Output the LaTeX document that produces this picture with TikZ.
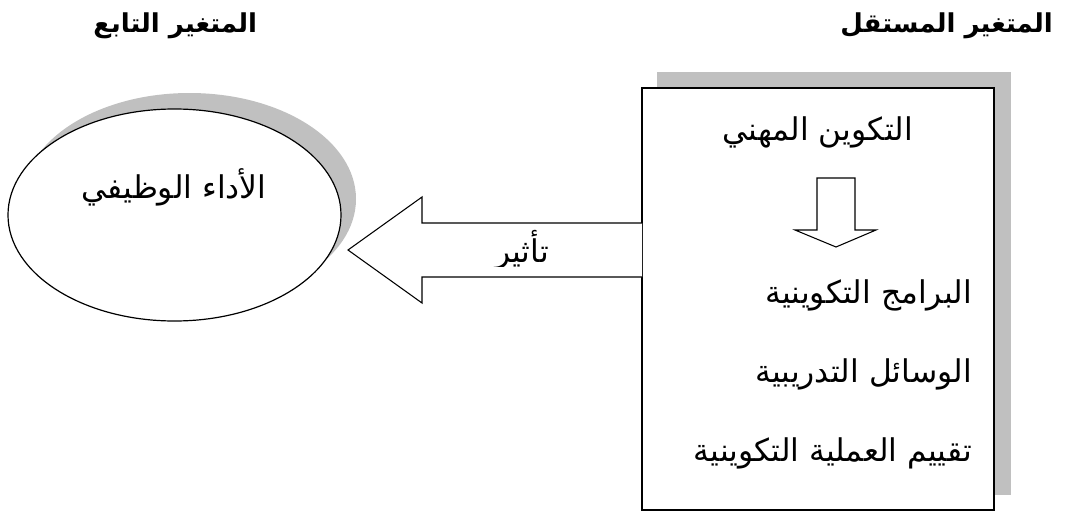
\documentclass[tikz,border=0pt]{standalone}
\usepackage{fontspec}
\usepackage{tikz}
\usetikzlibrary{positioning}
\usetikzlibrary{shapes.geometric}
\TeXXeTstate=1
\newfontfamily\arabicfont[Script=Arabic]{DejaVu Sans}
\definecolor{shadowgray}{RGB}{192,192,192}
\tikzset{ar/.style={font=\arabicfont\fontsize{23.5}{26}\selectfont, inner sep=0pt}}
\tikzset{arhead/.style={font=\arabicfont\bfseries\fontsize{19.5}{22}\selectfont, inner sep=0pt}}
\tikzset{oval/.style={ellipse, draw, line width=0.9pt, fill=white, minimum width=249.75pt, minimum height=159pt, inner sep=0pt}}

\begin{document}
\begin{tikzpicture}[x=0.75pt,y=-0.75pt]
\useasboundingbox (0,0) rectangle (1066,514);
% titles
\node[arhead, anchor=east] (indep) at (1053,26) {\beginR المتغير المستقل\endR};
\node[arhead, anchor=west] (dep) at (93,26) {\beginR المتغير التابع\endR};
% shadows first
\fill[shadowgray] (657,72) rectangle (1011,495);
\fill[shadowgray] (189.5,199) ellipse (166.5 and 106);
\draw[line width=1.1pt,fill=white] (642,88) rectangle (994,510);
\coordinate (box) at (642,299);
\node[oval] (perf) at (174.5,215) {};
\node[ar] (perftxt) at (174,187) {\beginR الأداء الوظيفي\endR};
% the big arrow towards the ellipse
\draw[line width=0.8pt,fill=white] (box |- 0,223) -- (422,223) -- (422,197) -- (348,250)
  -- (422,303) -- (422,277) -- (box |- 0,277);
\begin{scope}
\clip (422,200) rectangle (642,266);
\node[ar] (effect) at (522,250) {\beginR تأثير\endR};
\end{scope}
% inside the box
\node[ar, anchor=east] (train) at (913,132) {\beginR التكوين المهني\endR};
\draw[line width=0.8pt] (817,178) -- (855,178) -- (855,230) -- (876,230) -- (836,247)
  -- (795,230) -- (817,230) -- cycle;
\foreach \t [count=\i] in {البرامج التكوينية, الوسائل التدريبية, تقييم العملية التكوينية} {
\node[ar, anchor=east] (item\i) at (972,{295+79*(\i-1)}) {\beginR \t\endR};
}
\end{tikzpicture}
\end{document}
